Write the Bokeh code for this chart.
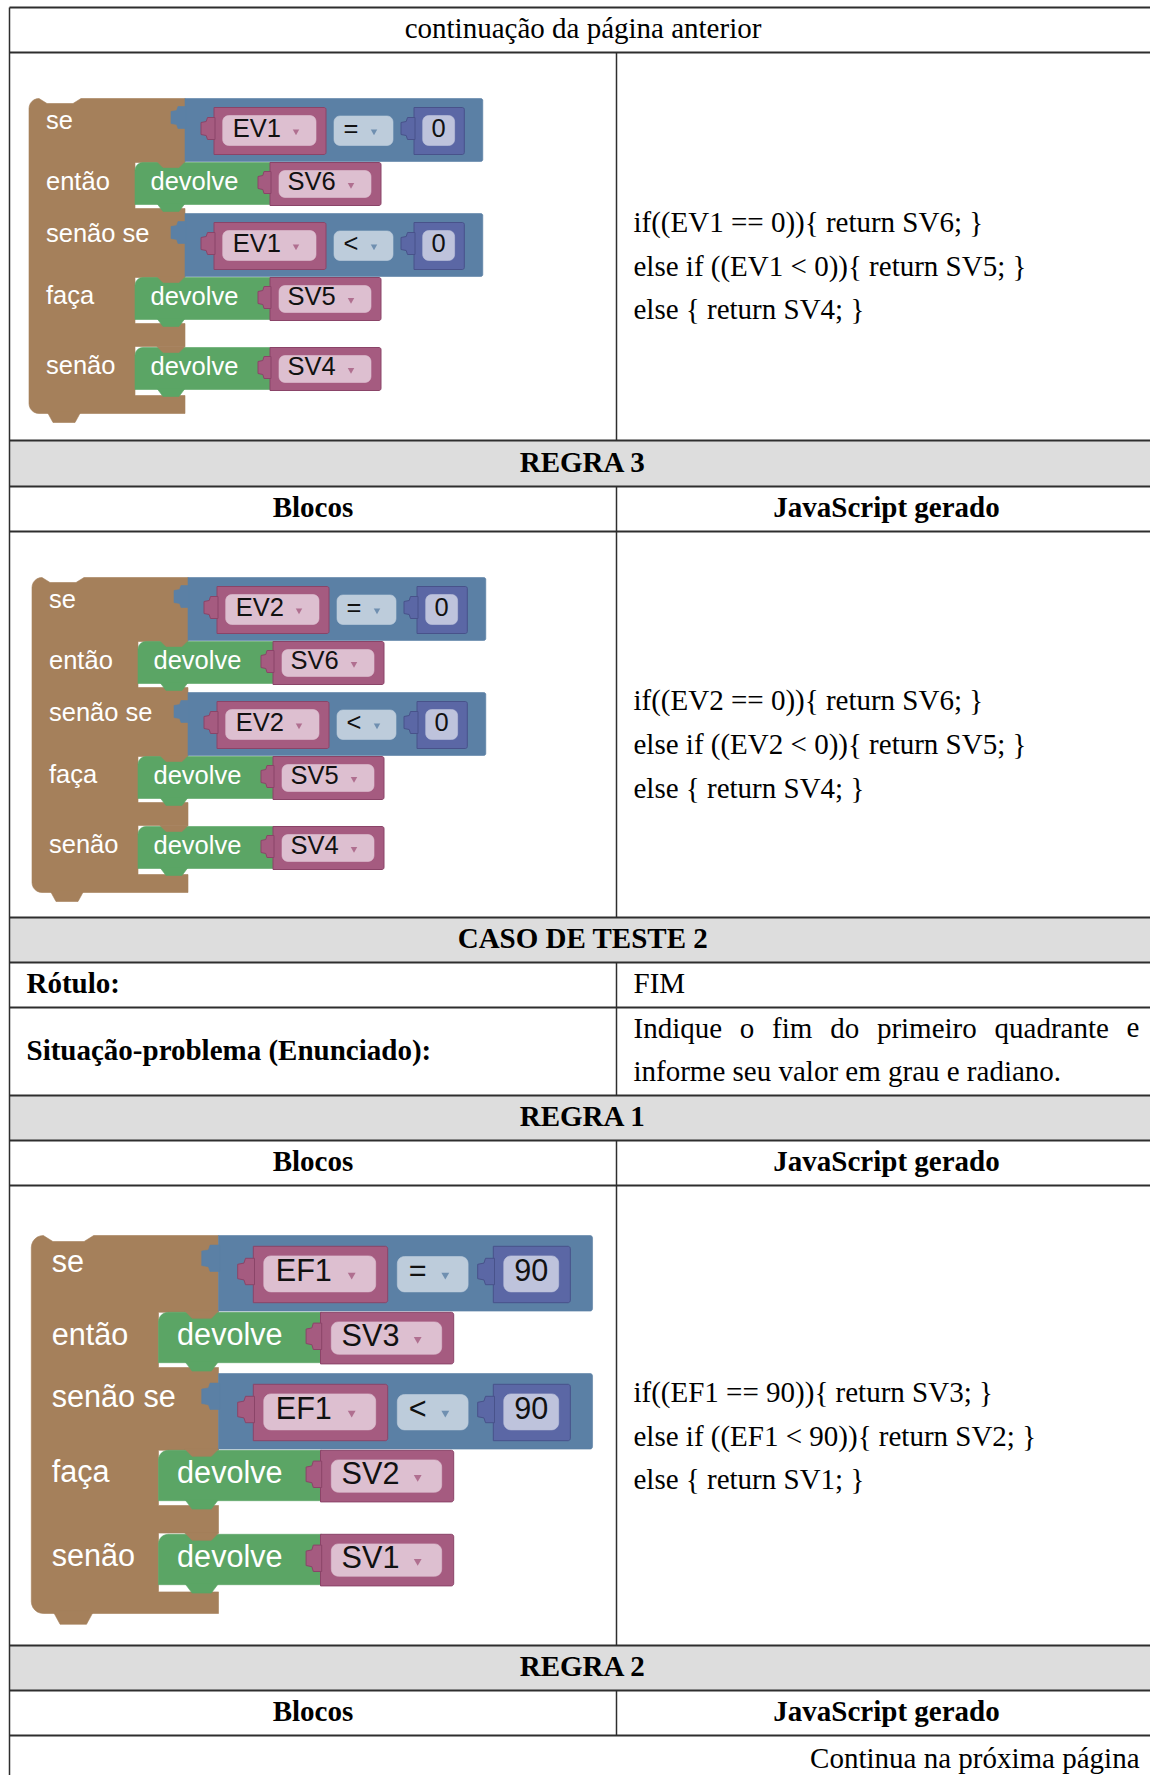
import math
from bokeh.plotting import figure
from bokeh.models import Range1d
from bokeh.embed import file_html
from bokeh.resources import INLINE
from bokeh.core.properties import value

# ---------------- data (texts of the table) ----------------
header_continued = "continuação da página anterior"
footer_continues = "Continua na próxima página"
col_headers = ["Blocos", "JavaScript gerado"]
section_titles = ["REGRA 3", "CASO DE TESTE 2", "REGRA 1", "REGRA 2"]
label_names = ["Rótulo:", "Situação-problema (Enunciado):"]
label_value = "FIM"
statement_line1 = ["Indique", "o", "fim", "do", "primeiro", "quadrante", "e"]
statement_line2 = "informe seu valor em grau e radiano."
block_labels = ["se", "então", "senão se", "faça", "senão"]
return_word = "devolve"
rule_vars = ["EV1", "EV2", "EF1"]
rule_ops = ["=", "<"]
rule_values = ["0", "0", "90"]
rule_outputs = [["SV6", "SV5", "SV4"], ["SV6", "SV5", "SV4"], ["SV3", "SV2", "SV1"]]
code_lines = [
    ["if((EV1 == 0)){ return SV6; }", "else if ((EV1 < 0)){ return SV5; }", "else { return SV4; }"],
    ["if((EV2 == 0)){ return SV6; }", "else if ((EV2 < 0)){ return SV5; }", "else { return SV4; }"],
    ["if((EF1 == 90)){ return SV3; }", "else if ((EF1 < 90)){ return SV2; }", "else { return SV1; }"],
]

# ---------------- layout (pixel geometry) ----------------
W, H = 1150, 1775
X_LEFT, X_DIV, X_END = 9, 616, 1150
H_LINES = [7, 52, 440, 486, 531, 917, 962, 1007, 1095, 1140, 1185, 1645, 1690, 1735]
GRAY_BANDS = [(440, 486), (917, 962), (1095, 1140), (1645, 1690)]
DIV_SEGS = [(52, 440), (486, 531), (531, 917), (962, 1007), (1007, 1095),
            (1140, 1185), (1185, 1645), (1690, 1735)]
DY = -2  # visual centring of serif text
TITLE_Y = [463 + DY, 939.5 + DY, 1117.5 + DY, 1667.5 + DY]
COLHEAD_Y = [508.5 + DY, 1162.5 + DY, 1712.5 + DY]
BLOCK_ORIGINS = [(28.5, 98, 1.0), (31.5, 577, 1.0), (30.8, 1235, 1.2)]
CODE_Y = [[221, 265, 308], [699, 743, 787], [1391, 1435, 1478]]
TXT_X = 633
SERIF = value("Liberation Serif")
SANS = value("Liberation Sans")
FS = "29px"

BROWN = "#A5805B"
BLUE = "#5B80A5"
GREEN = "#5BA565"
PINK = "#A55B80"
PURPLE = "#5B67A5"
PINK_FIELD = "#DDBFD0"
OP_FIELD = "#BDCCDB"
NUM_FIELD = "#BEC3DC"

p = figure(width=W, height=H, output_backend="svg", toolbar_location=None,
           x_range=Range1d(0, W), y_range=Range1d(H, 0),
           x_axis_location=None, y_axis_location=None, min_border=0,
           background_fill_color="white", border_fill_color="white")
p.outline_line_color = None
p.grid.visible = False

# ---------------- table ----------------
p.quad(left=[X_LEFT] * len(GRAY_BANDS), right=[X_END] * len(GRAY_BANDS),
       top=[b[0] for b in GRAY_BANDS], bottom=[b[1] for b in GRAY_BANDS],
       fill_color="#DDDDDD", line_color=None)
p.segment(x0=[X_LEFT] * len(H_LINES), x1=[X_END] * len(H_LINES), y0=H_LINES, y1=H_LINES,
          line_color="#2E2E2E", line_width=1.8)
p.segment(x0=[X_DIV] * len(DIV_SEGS), x1=[X_DIV] * len(DIV_SEGS),
          y0=[s[0] for s in DIV_SEGS], y1=[s[1] for s in DIV_SEGS],
          line_color="#2E2E2E", line_width=1.5)
p.segment(x0=[X_LEFT], x1=[X_LEFT], y0=[7], y1=[H], line_color="#2E2E2E", line_width=1.5)

CX_ALL = (X_LEFT + 1156) / 2
p.text(x=[CX_ALL], y=[29.5 + DY], text=[header_continued], text_font=SERIF, text_font_size=FS,
       text_align="center", text_baseline="middle", text_color="black")
p.text(x=[1139], y=[1759 + DY], text=[footer_continues], text_font=SERIF, text_font_size=FS,
       text_align="right", text_baseline="middle", text_color="black")
p.text(x=[CX_ALL] * 4, y=TITLE_Y, text=section_titles, text_font=SERIF, text_font_size=FS,
       text_font_style="bold", text_align="center", text_baseline="middle", text_color="black")
cx_left = (X_LEFT + X_DIV) / 2
cx_right = (X_DIV + 1156) / 2
p.text(x=[cx_left] * 3, y=COLHEAD_Y, text=[col_headers[0]] * 3, text_font=SERIF, text_font_size=FS,
       text_font_style="bold", text_align="center", text_baseline="middle", text_color="black")
p.text(x=[cx_right] * 3, y=COLHEAD_Y, text=[col_headers[1]] * 3, text_font=SERIF, text_font_size=FS,
       text_font_style="bold", text_align="center", text_baseline="middle", text_color="black")
p.text(x=[26, 26], y=[984.5 + DY, 1051 + DY], text=label_names, text_font=SERIF, text_font_size=FS,
       text_font_style="bold", text_align="left", text_baseline="middle", text_color="black")
p.text(x=[TXT_X], y=[984.5 + DY], text=[label_value], text_font=SERIF, text_font_size=FS,
       text_align="left", text_baseline="middle", text_color="black")

# justified first line of the statement (Times metrics, em units)
TIMES_W = {"I": .333, "n": .5, "d": .5, "i": .278, "q": .5, "u": .5, "e": .444, "o": .5,
           "f": .333, "m": .778, "p": .5, "r": .333, "a": .444, "t": .278}
fs_num = 29
word_w = [sum(TIMES_W[c] for c in w) * fs_num for w in statement_line1]
line_right = 1139
gap = (line_right - TXT_X - sum(word_w)) / (len(statement_line1) - 1)
wx = []
cur = TXT_X
for ww in word_w:
    wx.append(cur)
    cur += ww + gap
p.text(x=wx, y=[1029 + DY] * len(wx), text=statement_line1, text_font=SERIF, text_font_size=FS,
       text_align="left", text_baseline="middle", text_color="black")
p.text(x=[TXT_X], y=[1072 + DY], text=[statement_line2], text_font=SERIF, text_font_size=FS,
       text_align="left", text_baseline="middle", text_color="black")

for ys, lines in zip(CODE_Y, code_lines):
    p.text(x=[TXT_X] * 3, y=ys, text=lines, text_font=SERIF, text_font_size=FS,
           text_align="left", text_baseline="middle", text_color="black")


# ---------------- Blockly blocks ----------------
def arc(cx, cy, r, a0, a1, n=7):
    return [(cx + r * math.cos(a0 + (a1 - a0) * k / (n - 1)),
             cy + r * math.sin(a0 + (a1 - a0) * k / (n - 1))) for k in range(n)]


def rrect(x0, y0, x1, y1, r):
    tl, tr, br, bl = r
    pts = []
    pts += arc(x0 + tl, y0 + tl, tl, math.pi, 1.5 * math.pi) if tl else [(x0, y0)]
    pts += arc(x1 - tr, y0 + tr, tr, 1.5 * math.pi, 2 * math.pi) if tr else [(x1, y0)]
    pts += arc(x1 - br, y1 - br, br, 0, 0.5 * math.pi) if br else [(x1, y1)]
    pts += arc(x0 + bl, y1 - bl, bl, 0.5 * math.pi, math.pi) if bl else [(x0, y1)]
    return pts


def tab(xr, y0, w):
    # output connector (puzzle tab) on the left side of a value block
    return [(xr + 1, y0), (xr - w * 0.5, y0), (xr - w * 0.6, y0 + 4), (xr - w, y0 + 5),
            (xr - w, y0 + 17), (xr - w * 0.6, y0 + 18), (xr - w * 0.5, y0 + 22), (xr + 1, y0 + 22)]


LAYER_ORDER = ["brown", "green", "browntab", "greentab", "blue", "pink", "purple",
               "pinkfield", "opfield", "numfield"]
layers = {k: [] for k in LAYER_ORDER}
lab_x, lab_y, lab_t, lab_fs = [], [], [], []
fld_x, fld_y, fld_t, fld_fs, fld_align = [], [], [], [], []
arr_x, arr_y, arr_c, arr_s = [], [], [], []
TY = -3  # visual centring of sans text inside blocks


def add(layer, pts, T):
    tp = [T(u, v) for u, v in pts]
    layers[layer].append(([q[0] for q in tp], [q[1] for q in tp]))


for bi, (ox, oy, s) in enumerate(BLOCK_ORIGINS):
    T = (lambda ox_, oy_, s_: (lambda u, v: (ox_ + s_ * u, oy_ + s_ * v)))(ox, oy, s)
    fsz = f"{25.5 * s:.1f}px"
    R = 10
    brown = arc(R, R, R, math.pi, 1.5 * math.pi)
    brown += [(10, 0), (18, 5), (44, 5), (52, 0), (156, 0), (156, 64), (106, 64), (106, 110),
              (156, 110), (156, 179), (106, 179), (106, 225), (156, 225), (156, 248),
              (106, 248), (106, 297), (156, 297), (156, 315)]
    brown += arc(R, 315 - R, R, 0.5 * math.pi, math.pi)
    add("brown", brown, T)
    add("brown", [(18, 313), (52, 313), (46, 324), (24, 324)], T)

    greens = [64, 179, 249]
    for gi, g in enumerate(greens):
        add("green", rrect(106, g, 242, g + 42, (8, 0, 0, 0)), T)
        add("browntab", [(128, g - 1), (156, g - 1), (150, g + 5), (134, g + 5)], T)
        add("greentab", [(128, g + 41), (156, g + 41), (150, g + 49), (134, g + 49)], T)
        add("pink", rrect(241, g, 352, g + 43, (0, 2, 2, 0)), T)
        add("pink", tab(241, g + 9, 12), T)
        add("pinkfield", rrect(250, g + 8, 342, g + 35, (6, 6, 6, 6)), T)
        fld_x.append(T(258.6, 0)[0]); fld_y.append(T(0, g + 21.5 + TY)[1])
        fld_t.append(rule_outputs[bi][gi]); fld_fs.append(fsz); fld_align.append("left")
        ax, ay = T(322, g + 22.5)
        arr_x.append(ax); arr_y.append(ay); arr_c.append(PINK); arr_s.append(6.5 * s)
        lab_x.append(T(121.5, 0)[0]); lab_y.append(T(0, g + 21 + TY)[1]); lab_t.append(return_word)
        lab_fs.append(fsz)

    num = rule_values[bi]
    fw = 0.556 * 25 * len(num) + 18
    pr = 393.7 + fw + 9.7
    br_right = pr + 18.5
    for ri, b in enumerate([0, 115]):
        add("blue", rrect(156, b, br_right, b + 63, (0, 2, 2, 0)), T)
        add("blue", tab(156, b + 8, 14), T)
        add("pink", rrect(185, b + 9, 297, b + 56, (0, 2, 2, 0)), T)
        add("pink", tab(185, b + 19, 13), T)
        add("pinkfield", rrect(193.7, b + 17, 287, b + 47, (6, 6, 6, 6)), T)
        add("opfield", rrect(305, b + 17.5, 364, b + 47, (6, 6, 6, 6)), T)
        add("purple", rrect(385, b + 9, pr, b + 56, (0, 2, 2, 0)), T)
        add("purple", tab(385, b + 19, 13), T)
        add("numfield", rrect(393.7, b + 17, 393.7 + fw, b + 47, (6, 6, 6, 6)), T)
        fld_x += [T(203.7, 0)[0], T(322, 0)[0], T(393.7 + fw / 2, 0)[0]]
        fld_y += [T(0, b + 32 + TY)[1]] * 3
        fld_t += [rule_vars[bi], rule_ops[ri], num]
        fld_fs += [fsz] * 3
        fld_align += ["left", "center", "center"]
        for axu, col in [(267, PINK), (345, BLUE)]:
            ax, ay = T(axu, b + 33)
            arr_x.append(ax); arr_y.append(ay); arr_c.append(col); arr_s.append(6.5 * s)

    for lt, lv in zip(block_labels, [24, 85, 137, 199, 269]):
        x_, y_ = T(17, lv + TY)
        lab_x.append(x_); lab_y.append(y_); lab_t.append(lt); lab_fs.append(fsz)

colors = {"brown": BROWN, "green": GREEN, "browntab": BROWN, "greentab": GREEN, "blue": BLUE,
          "pink": PINK, "purple": PURPLE, "pinkfield": PINK_FIELD, "opfield": OP_FIELD,
          "numfield": NUM_FIELD}
for key in LAYER_ORDER:
    polys = layers[key]
    if not polys:
        continue
    edge = {"pink": "#8A4468", "purple": "#48528A"}.get(key)
    p.patches(xs=[q[0] for q in polys], ys=[q[1] for q in polys], fill_color=colors[key],
              line_color=edge if edge else colors[key], line_width=1 if edge else 0.6)

for fsv in sorted(set(lab_fs)):
    idx = [i for i, f in enumerate(lab_fs) if f == fsv]
    p.text(x=[lab_x[i] for i in idx], y=[lab_y[i] for i in idx], text=[lab_t[i] for i in idx],
           text_font=SANS, text_font_size=fsv, text_align="left", text_baseline="middle",
           text_color="white")
for fsv in sorted(set(fld_fs)):
    for al in ["left", "center"]:
        idx = [i for i, f in enumerate(fld_fs) if f == fsv and fld_align[i] == al]
        if idx:
            p.text(x=[fld_x[i] for i in idx], y=[fld_y[i] for i in idx],
                   text=[fld_t[i] for i in idx], text_font=SANS, text_font_size=fsv,
                   text_align=al, text_baseline="middle", text_color="#111111")
p.scatter(x=arr_x, y=arr_y, size=arr_s, marker="inverted_triangle", fill_color=arr_c,
          line_color=None, alpha=0.8)

open("out.html", "w").write(file_html(p, INLINE))
